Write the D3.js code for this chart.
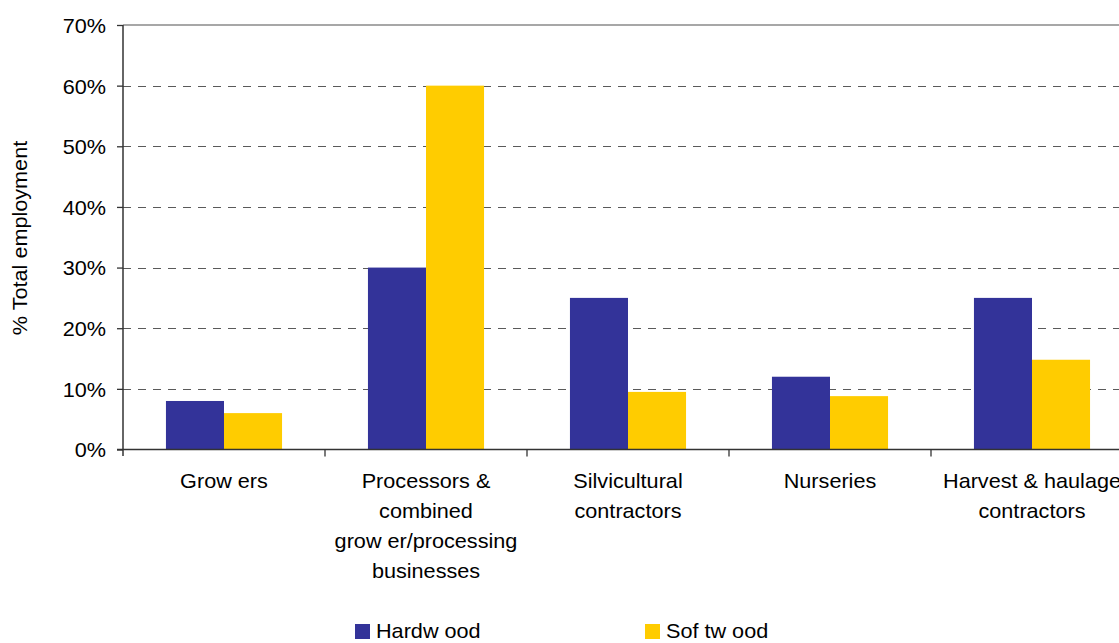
<!DOCTYPE html>
<html><head><meta charset="utf-8">
<script src="https://cdn.jsdelivr.net/npm/d3@7"></script>
<style>
body{margin:0;background:#fff}
svg{display:block}
text{font-family:"Liberation Sans",Arial,sans-serif;fill:#000;font-size:21px}
</style>
</head><body><svg id="c" width="1119" height="643"></svg>
<script>
const categories = ["Growers","Processors","Silvicultural","Nurseries","Harvest"];
const categoryLines = [
  ["Grow ers"],
  ["Processors &","combined","grow er/processing","businesses"],
  ["Silvicultural","contractors"],
  ["Nurseries"],
  ["Harvest & haulage","contractors"]
];
const series = ["Hardw ood","Sof tw ood"];
const hardwood = [8, 30, 25, 12, 25];
const softwood = [6, 60, 9.5, 8.8, 14.8];
const yTicks = [0, 10, 20, 30, 40, 50, 60, 70];
const colors = ["#333399", "#FFCC00"];

const svg = d3.select("#c");
const K = 1.03;
function stretch(sel){
  sel.each(function(){
    const l = this.getComputedTextLength();
    d3.select(this).attr("textLength", l*K).attr("lengthAdjust","spacingAndGlyphs");
  });
}

const x0 = d3.scaleBand().domain(categories).range([123, 1133]).padding(0);
const x1 = d3.scaleBand().domain(series).range([0, x0.bandwidth()]).paddingInner(0).paddingOuter(0.74);
const y = d3.scaleLinear().domain([0, 70]).range([449.5, 25]);

// gridlines
svg.append("g").selectAll("line").data(yTicks.filter(t => t > 0 && t < 70)).join("line")
  .attr("x1", 123).attr("x2", 1133)
  .attr("y1", d => Math.round(y(d)) + 0.5).attr("y2", d => Math.round(y(d)) + 0.5)
  .attr("stroke", "#5a5a5a").attr("stroke-width", 1.2).attr("stroke-dasharray", "8,7");

// top border
svg.append("line").attr("x1", 123).attr("x2", 1133).attr("y1", y(70)).attr("y2", y(70))
  .attr("stroke", "#8a8a8a").attr("stroke-width", 1.5);

// bars
const data = categories.map((c, i) => ({c, vals: [hardwood[i], softwood[i]]}));
const g = svg.append("g").selectAll("g").data(data).join("g")
  .attr("transform", d => `translate(${x0(d.c)},0)`);
g.selectAll("rect").data(d => d.vals.map((v, j) => ({s: series[j], v, j}))).join("rect")
  .attr("x", d => x1(d.s)).attr("width", x1.bandwidth())
  .attr("y", d => y(d.v)).attr("height", d => y(0) - y(d.v))
  .attr("fill", d => colors[d.j]);

// y axis
const yAxis = svg.append("g").attr("transform", "translate(123,0)")
  .call(d3.axisLeft(y).tickValues(yTicks).tickFormat(d => d + "%").tickSize(6).tickPadding(11));
yAxis.select(".domain").remove();
yAxis.selectAll(".tick line").attr("stroke", "#333").attr("stroke-width", 1.3);
yAxis.selectAll("text").attr("font-size", 21).attr("font-family", "Liberation Sans, Arial, sans-serif").attr("fill", "#000").attr("dy", "0.35em").call(stretch);
svg.append("line").attr("x1", 123).attr("x2", 123).attr("y1", y(70)).attr("y2", 456)
  .attr("stroke", "#333").attr("stroke-width", 1.5);

// x axis
svg.append("line").attr("x1", 117).attr("x2", 1133).attr("y1", y(0)).attr("y2", y(0))
  .attr("stroke", "#333").attr("stroke-width", 1.5);
svg.append("g").selectAll("line").data(categories.slice(1)).join("line")
  .attr("x1", d => x0(d)).attr("x2", d => x0(d))
  .attr("y1", y(0)).attr("y2", y(0) + 7)
  .attr("stroke", "#333").attr("stroke-width", 1.3);

// category labels
categories.forEach((c, i) => {
  categoryLines[i].forEach((line, k) => {
    svg.append("text").attr("x", x0(c) + x0.bandwidth()/2).attr("y", 488 + k*30)
      .attr("text-anchor", "middle").text(line).call(stretch);
  });
});

// y title
svg.append("text").attr("transform", "translate(27,238) rotate(-90)")
  .attr("text-anchor", "middle").text("% Total employment").call(stretch);

// legend
const legX = [355, 645];
series.forEach((s, j) => {
  svg.append("rect").attr("x", legX[j]).attr("y", 624).attr("width", 15).attr("height", 15).attr("fill", colors[j]);
  svg.append("text").attr("x", legX[j] + 21).attr("y", 638).text(s).call(stretch);
});
</script>
</body></html>
